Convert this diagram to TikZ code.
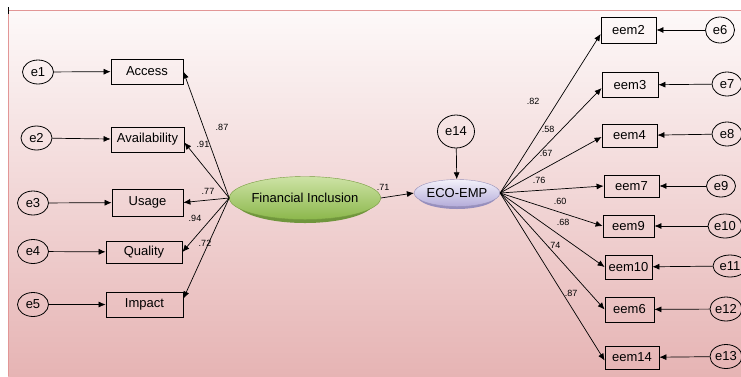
\documentclass[tikz,border=0pt]{standalone}
\usepackage{fontspec}
\setmainfont{Liberation Sans}
\usetikzlibrary{arrows.meta,shapes.geometric}
\definecolor{bgtop}{RGB}{253,249,249}
\definecolor{bgbot}{RGB}{230,180,180}
\definecolor{bgline}{RGB}{226,150,150}
\definecolor{figreentop}{RGB}{205,226,165}
\definecolor{figreenbot}{RGB}{140,184,76}
\definecolor{figreenshd}{RGB}{112,150,60}
\definecolor{ecotop}{RGB}{243,241,250}
\definecolor{ecobot}{RGB}{180,172,218}
\definecolor{ecoshd}{RGB}{150,142,190}
\begin{document}
\begin{tikzpicture}[x=1pt,y=-1pt,
  obs/.style={draw=black, line width=0.8pt, rectangle, inner sep=0pt, font=\fontsize{13}{15}\selectfont},
  err/.style={draw=black, line width=0.8pt, ellipse, inner sep=0pt, minimum width=31pt, minimum height=24pt, font=\fontsize{13}{15}\selectfont},
  arr/.style={-{Latex[length=7pt,width=6pt]}, line width=0.7pt},
  lbl/.style={font=\fontsize{9}{10}\selectfont, inner sep=0pt}
]
\useasboundingbox (0,0) rectangle (741,376);
% background
\shade[top color=bgtop, bottom color=bgbot] (8,10) rectangle (741,376);
\draw[bgline, line width=1.2pt] (8.6,376) -- (8.6,10.6) -- (741,10.6);
\draw[black, line width=1pt] (8,7) -- (8,14);

% left observed
\node[obs, minimum width=72pt, minimum height=25pt] (access) at (147,71.5) {Access};
\node[obs, minimum width=73pt, minimum height=25pt] (avail) at (147.5,139.5) {Availability};
\node[obs, minimum width=71pt, minimum height=27pt] (usage) at (147.5,202.5) {Usage};
\node[obs, minimum width=76pt, minimum height=22pt] (quality) at (144,252) {Quality};
\node[obs, minimum width=77pt, minimum height=25pt] (impact) at (144.5,304.5) {Impact};
% left errors
\node[err] (e1) at (38,72) {e1};
\node[err] (e2) at (36.5,138) {e2};
\node[err] (e3) at (33,203) {e3};
\node[err] (e4) at (33,251.5) {e4};
\node[err] (e5) at (33,304.5) {e5};

% Financial Inclusion
\fill[figreenshd] (305,201) ellipse [x radius=70pt, y radius=22pt];
\node[ellipse, inner sep=0pt, minimum width=140pt, minimum height=43pt, top color=figreentop, bottom color=figreenbot, draw=figreenbot!85!black, line width=0.4pt, font=\fontsize{13}{15}\selectfont] (fi) at (305,198) {Financial Inclusion};

% ECO-EMP
\fill[ecoshd] (457,195.5) ellipse [x radius=40pt, y radius=13.5pt];
\node[ellipse, inner sep=0pt, minimum width=80pt, minimum height=27pt, top color=ecotop, bottom color=ecobot, draw=ecobot!85!black, line width=0.4pt, font=\fontsize{13}{15}\selectfont] (eco) at (457,193) {ECO-EMP};
\node[err, minimum width=37pt, minimum height=33pt] (e14) at (456,131.5) {e14};

% right observed
\node[obs, minimum width=55pt, minimum height=26pt] (eem2) at (628.5,30) {eem2};
\node[obs, minimum width=56pt, minimum height=25pt] (eem3) at (630,85) {eem3};
\node[obs, minimum width=55pt, minimum height=23pt] (eem4) at (629.5,135.5) {eem4};
\node[obs, minimum width=55pt, minimum height=22pt] (eem7) at (631.5,186) {eem7};
\node[obs, minimum width=51pt, minimum height=22pt] (eem9) at (628.5,226) {eem9};
\node[obs, minimum width=47pt, minimum height=24pt] (eem10) at (628.5,267) {eem10};
\node[obs, minimum width=49pt, minimum height=25pt] (eem6) at (629.5,309.5) {eem6};
\node[obs, minimum width=54pt, minimum height=23pt] (eem14) at (632,357.5) {eem14};
% right errors
\node[err, minimum width=29pt, minimum height=26pt] (e6) at (720,30) {e6};
\node[err, minimum width=30pt] (e7) at (727,84) {e7};
\node[err, minimum width=30pt] (e8) at (727,134) {e8};
\node[err, minimum width=29pt, minimum height=22pt] (e9) at (721,186) {e9};
\node[err, minimum width=34pt] (e10) at (725,226) {e10};
\node[err, minimum width=34pt, minimum height=22pt] (e11) at (730,266) {e11};
\node[err, minimum width=32pt] (e12) at (726,309) {e12};
\node[err, minimum width=32pt] (e13) at (726,356.5) {e13};

% error arrows left
\draw[arr] (e1) -- (access);
\draw[arr] (e2) -- (avail);
\draw[arr] (e3) -- (usage);
\draw[arr] (e4) -- (quality);
\draw[arr] (e5) -- (impact);
% loadings left
\draw[arr] (fi.west) -- (access.east);
\draw[arr] (fi.west) -- ([yshift=-3pt]avail.east);
\draw[arr] (fi.west) -- (usage.east);
\draw[arr] (fi.west) -- (quality.east);
\draw[arr] (fi.west) -- ([yshift=6pt]impact.east);
% structural
\draw[arr] (fi.east) -- (eco.west);
\draw[arr] (e14) -- (eco);
% loadings right
\draw[arr] (eco.east) -- ([yshift=-4pt]eem2.west);
\draw[arr] (eco.east) -- ([yshift=-3pt]eem3.west);
\draw[arr] (eco.east) -- ([yshift=-1.5pt]eem4.west);
\draw[arr] (eco.east) -- (eem7.west);
\draw[arr] (eco.east) -- (eem9.west);
\draw[arr] (eco.east) -- (eem10.west);
\draw[arr] (eco.east) -- (eem6.west);
\draw[arr] (eco.east) -- ([yshift=-3pt]eem14.west);
% error arrows right
\draw[arr] (e6) -- (eem2);
\draw[arr] (e7) -- (eem3);
\draw[arr] (e8) -- (eem4);
\draw[arr] (e9) -- (eem7);
\draw[arr] (e10) -- (eem9);
\draw[arr] (e11) -- (eem10);
\draw[arr] (e12) -- (eem6);
\draw[arr] (e13) -- (eem14);

% labels
\node[lbl] (l1) at (222,127) {.87};
\node[lbl] (l2) at (203,144) {.91};
\node[lbl] (l3) at (208,191) {.77};
\node[lbl] (l4) at (195,218) {.94};
\node[lbl] (l5) at (205,243) {.72};
\node[lbl] (l6) at (383,187) {.71};
\node[lbl] (r1) at (533,101) {.82};
\node[lbl] (r2) at (548,129) {.58};
\node[lbl] (r3) at (546,153) {.67};
\node[lbl] (r4) at (539,180) {.76};
\node[lbl] (r5) at (560,201) {.60};
\node[lbl] (r6) at (563,222) {.68};
\node[lbl] (r7) at (554,245) {.74};
\node[lbl] (r8) at (571,293) {.87};
\end{tikzpicture}
\end{document}
